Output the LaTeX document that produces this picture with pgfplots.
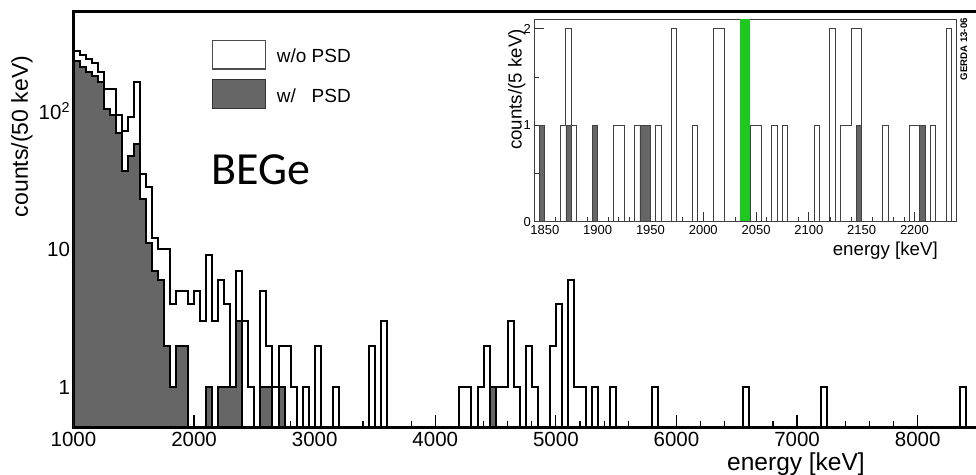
\documentclass[border=0pt]{standalone}
\usepackage{pgfplots}
\pgfplotsset{compat=1.18}
\usepackage{fontspec}
\setmainfont{Liberation Sans}
\newfontfamily\carlito{Carlito}
\definecolor{psdgray}{RGB}{102,102,102}
\definecolor{qbb}{RGB}{30,200,30}
\newcommand{\fs}[1]{\fontsize{#1bp}{#1bp}\selectfont}

\pgfplotstableread{
E c
1000 273
1050 254
1100 236
1150 221
1200 192
1250 144
1300 144
1350 93
1400 71
1450 91
1500 163
1550 35
1600 28
1650 12
1700 10
1750 10
1800 4
1850 5
1900 5
1950 4
2000 5
2050 3
2100 9
2150 3
2200 6
2250 4
2300 1
2350 7
2400 3
2450 1
2500 0.01
2550 5
2600 2
2650 1
2700 2
2750 2
2800 1
2850 0.01
2900 1
2950 0.01
3000 2
3050 0.01
3150 1
3200 0.01
3450 2
3500 0.01
3550 3
3600 0.01
4200 1
4250 1
4300 0.01
4350 1
4400 2
4450 1
4500 1
4550 1
4600 3
4650 1
4700 0.01
4750 2
4800 1
4850 0.01
4950 2
5000 4
5050 0.01
5100 6
5150 1
5200 1
5250 0.01
5300 1
5350 0.01
5450 1
5500 0.01
5800 1
5850 0.01
6550 1
6600 0.01
7200 1
7250 0.01
8350 1
8400 0.01
8550 0.01
}\nopsd

\pgfplotstableread{
E c
1000 0.01
1000 228
1050 209
1100 192
1150 179
1200 163
1250 104
1300 93
1350 69
1400 37
1450 47
1500 58
1550 23
1600 11
1650 7
1700 6
1750 2
1800 1
1850 2
1900 2
1950 0.01
2100 1
2150 0.01
2200 1
2250 1
2300 1
2350 3
2400 0.01
2550 1
2600 1
2650 0.01
2700 1
2750 0.01
4450 1
4500 0.01
8550 0.01
}\withpsd

\pgfplotstableread{
E c
1840 0
1845 1
1850 0
1865 1
1870 2
1875 1
1880 0
1895 1
1900 0
1915 1
1920 1
1925 0
1935 1
1940 1
1945 1
1950 0
1955 1
1960 0
1970 2
1975 0
1990 1
1995 0
2010 2
2015 2
2020 0
2045 1
2050 1
2055 0
2065 1
2070 0
2075 1
2080 0
2105 1
2110 0
2120 2
2125 0
2130 1
2135 1
2140 2
2145 2
2150 0
2170 1
2175 0
2195 1
2200 1
2205 1
2210 0
2215 1
2220 0
2230 2
2235 0
2240 0
}\insetnopsd

\pgfplotstableread{
E c
1840 0
1845 1
1850 0
1870 1
1875 0
1895 1
1900 0
1940 1
1950 0
2145 1
2150 0
2205 1
2210 0
2240 0
}\insetpsd

\begin{document}
\begin{tikzpicture}
\begin{axis}[
  at={(73.5bp,47.5bp)}, anchor=south west,
  scale only axis, width=910.5bp, height=415.8bp,
  xmin=1000, xmax=8550, ymode=log, ymin=0.512, ymax=522,
  log origin=infty,
  axis line style={line width=3.2bp},
  tick align=inside, xtick pos=left, ytick pos=left,
  xtick={1000,2000,3000,4000,5000,6000,7000,8000},
  xticklabels={1000,2000,3000,4000,5000,6000,7000,8000},
  minor x tick num=4,
  ytick={1,10,100}, yticklabels={1,10,{10\textsuperscript{2}}},
  major tick length=13bp, minor tick length=7bp,
  tick style={black, line width=1.2bp},
  tick label style={font=\fs{20.5}},
  xticklabel style={yshift=-1.5bp},
]
\addplot[const plot, draw=black, line width=2bp] table[x=E,y=c] {\nopsd};
\addplot[const plot, draw=black, line width=2bp, fill=psdgray] table[x=E,y=c] {\withpsd} \closedcycle;
\end{axis}

\draw[black!70, line width=1.2bp, fill=white] (212.3bp,406bp) rectangle (265.7bp,434.3bp);
\draw[black!80, line width=1.2bp, fill=psdgray] (212.3bp,366.7bp) rectangle (265.7bp,395.7bp);
\node[font=\fs{19}, anchor=base west, inner sep=0] at (276.7bp,412.3bp) {w/o PSD};
\node[font=\fs{19}, anchor=base west, inner sep=0] at (276.7bp,372.3bp) {w/\hphantom{o} PSD};
\node[font=\carlito\fs{46}, anchor=base west, inner sep=0] at (211bp,290bp) {BEGe};

\node[font=\fs{24.5}, anchor=base, inner sep=0] at (796bp,5bp) {energy [keV]};
\node[font=\fs{23}, rotate=90] at (22bp,338.5bp) {counts/(50 keV)};

\begin{axis}[
  at={(534.3bp,253.3bp)}, anchor=south west,
  scale only axis, width=422.4bp, height=202.7bp,
  xmin=1840, xmax=2240, ymin=0, ymax=2.1,
  axis background/.style={fill=white},
  axis line style={line width=0.8bp, black!75},
  tick align=inside, xtick pos=left, ytick pos=left,
  xtick={1850,1900,1950,2000,2050,2100,2150,2200},
  xticklabels={1850,1900,1950,2000,2050,2100,2150,2200},
  minor x tick num=4,
  ytick={0,1,2}, yticklabels={0,1,2}, minor y tick num=1,
  major tick length=10bp, minor tick length=5bp,
  tick style={black!80, line width=0.8bp},
  tick label style={font=\fs{13}},
]
\addplot[draw=none, fill=qbb] coordinates {(2035,2.1) (2044,2.1)} \closedcycle;
\addplot[const plot, draw=black!75, line width=1bp] table[x=E,y=c] {\insetnopsd};
\addplot[const plot, draw=black!75, line width=0.8bp, fill=psdgray] table[x=E,y=c] {\insetpsd} \closedcycle;
\end{axis}

\node[font=\fs{18.7}, rotate=90, anchor=base east, inner sep=0] at (521.7bp,446bp) {counts/(5 keV)};
\node[font=\fs{18.7}, anchor=base east, inner sep=0] at (938bp,219bp) {energy [keV]};
\node[font=\bfseries\fs{9.6}, rotate=90, anchor=base east, inner sep=0] at (967bp,457bp) {GERDA 13-06};

\pgfresetboundingbox
\path[use as bounding box] (0,0) rectangle (976bp,475bp);
\end{tikzpicture}
\end{document}
